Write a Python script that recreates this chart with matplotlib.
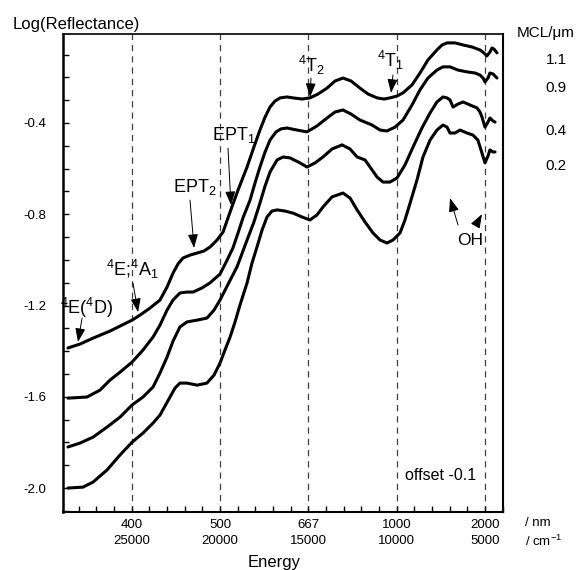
import numpy as np
import matplotlib.pyplot as plt
from matplotlib.ticker import MultipleLocator

plt.rcParams['font.family'] = ['Liberation Sans', 'DejaVu Sans']
plt.rcParams['mathtext.fontset'] = 'custom'
plt.rcParams['mathtext.rm'] = 'Liberation Sans'
plt.rcParams['mathtext.it'] = 'Liberation Sans:italic'

# energy axis: wavelength (nm) and wavenumber (cm-1)
nm_ticks = ['400', '500', '667', '1000', '2000']
wn_ticks = [25000, 20000, 15000, 10000, 5000]
y_ticks = [-0.4, -0.8, -1.2, -1.6, -2.0]
mcl = ['1.1', '0.9', '0.4', '0.2']

# log reflectance spectra, each successive curve offset by -0.1
wn_11 = [28610, 27930, 27190, 26230, 24980, 24530, 23960, 23400, 23000, 22660,
         22380, 22100, 21700, 21300, 20910, 20570, 20170, 19830, 19430, 18980,
         18470, 18080, 17740, 17450, 17170, 16890, 16600, 16210, 15870, 15360,
         14910, 14450, 13940, 13490, 13040, 12580, 12080, 11620, 11110, 10720,
         10380, 9980, 9640, 9130, 8680, 8230, 7720, 7430, 7150, 6700,
         6240, 5730, 5280, 5060, 4890, 4720, 4600, 4490, 4320]
logr_11 = [-1.386, -1.369, -1.343, -1.312, -1.264, -1.242, -1.211, -1.176, -1.119, -1.058,
           -1.018, -0.992, -0.979, -0.970, -0.961, -0.944, -0.913, -0.878, -0.790, -0.694,
           -0.593, -0.505, -0.431, -0.374, -0.330, -0.304, -0.290, -0.286, -0.290, -0.295,
           -0.290, -0.273, -0.247, -0.216, -0.203, -0.216, -0.247, -0.273, -0.290, -0.295,
           -0.290, -0.282, -0.268, -0.233, -0.181, -0.124, -0.080, -0.058, -0.049, -0.049,
           -0.058, -0.067, -0.080, -0.093, -0.106, -0.089, -0.071, -0.076, -0.093]

wn_09 = [28610, 27530, 26800, 26230, 25660, 24980, 24360, 23790, 23400, 23000,
         22660, 22270, 21870, 21530, 21020, 20570, 20000, 19600, 19270, 18980,
         18700, 18300, 18020, 17740, 17450, 17170, 16830, 16550, 16210, 15640,
         15080, 14510, 13940, 13490, 13040, 12580, 12080, 11390, 10940, 10550,
         10090, 9640, 9130, 8680, 8230, 7720, 7380, 6980, 6530, 6020,
         5560, 5280, 5110, 5000, 4830, 4720, 4550, 4320]
logr_09 = [-1.606, -1.601, -1.571, -1.527, -1.492, -1.448, -1.395, -1.338, -1.286, -1.220,
           -1.176, -1.145, -1.141, -1.141, -1.123, -1.101, -1.062, -1.001, -0.948, -0.882,
           -0.816, -0.738, -0.663, -0.593, -0.527, -0.475, -0.439, -0.426, -0.422, -0.431,
           -0.439, -0.413, -0.378, -0.352, -0.343, -0.361, -0.387, -0.409, -0.431, -0.435,
           -0.418, -0.387, -0.321, -0.255, -0.203, -0.168, -0.154, -0.154, -0.168, -0.176,
           -0.181, -0.190, -0.203, -0.220, -0.203, -0.181, -0.185, -0.203]

wn_04 = [28610, 27930, 27190, 26400, 25660, 24980, 24360, 23790, 23400, 23000,
         22660, 22270, 21870, 21300, 20740, 20340, 20000, 19600, 19040, 18470,
         18080, 17740, 17450, 17170, 16770, 16430, 16040, 15470, 15080, 14620,
         14170, 13660, 13090, 12640, 12240, 11790, 11390, 11110, 10770, 10380,
         9980, 9530, 9070, 8570, 8110, 7720, 7380, 7150, 6980, 6810,
         6530, 6240, 5850, 5450, 5280, 5170, 5000, 4830, 4720, 4550, 4430]
logr_04 = [-1.820, -1.803, -1.777, -1.733, -1.689, -1.636, -1.601, -1.557, -1.496, -1.426,
           -1.356, -1.294, -1.272, -1.264, -1.255, -1.220, -1.176, -1.115, -1.031, -0.913,
           -0.834, -0.751, -0.676, -0.615, -0.562, -0.549, -0.553, -0.575, -0.593, -0.575,
           -0.549, -0.514, -0.496, -0.514, -0.549, -0.562, -0.606, -0.637, -0.659, -0.659,
           -0.641, -0.584, -0.505, -0.422, -0.356, -0.308, -0.286, -0.290, -0.299, -0.330,
           -0.317, -0.308, -0.321, -0.334, -0.352, -0.374, -0.418, -0.396, -0.378, -0.391, -0.396]

wn_02 = [28610, 27760, 27190, 26400, 25660, 24980, 24360, 23790, 23400, 22830,
         22550, 22270, 21870, 21300, 20740, 20340, 20000, 19720, 19430, 19150,
         18870, 18470, 18190, 17910, 17620, 17340, 17060, 16770, 16320, 15870,
         15360, 14910, 14510, 14170, 13660, 13040, 12640, 12240, 11790, 11340,
         10940, 10550, 10210, 9810, 9530, 9240, 8850, 8510, 8110, 7720,
         7380, 7150, 6980, 6700, 6410, 6020, 5680, 5400, 5170, 5000,
         4830, 4720, 4550, 4430]
logr_02 = [-2.000, -1.996, -1.974, -1.921, -1.855, -1.799, -1.759, -1.715, -1.680, -1.601,
           -1.562, -1.540, -1.540, -1.549, -1.540, -1.505, -1.452, -1.395, -1.338, -1.272,
           -1.198, -1.101, -1.014, -0.944, -0.869, -0.812, -0.786, -0.781, -0.786, -0.795,
           -0.812, -0.825, -0.803, -0.768, -0.724, -0.707, -0.729, -0.781, -0.834, -0.882,
           -0.913, -0.926, -0.913, -0.882, -0.825, -0.751, -0.650, -0.549, -0.475, -0.431,
           -0.409, -0.418, -0.444, -0.444, -0.431, -0.444, -0.453, -0.475, -0.532, -0.575,
           -0.545, -0.518, -0.527, -0.527]

W, H = 580, 570
fig = plt.figure(figsize=(W / 100, H / 100), dpi=100)
ax = fig.add_axes([63 / W, 1 - 512 / H, 440 / W, 478 / H])

for w in wn_ticks:
    ax.axvline(w, color='0.25', lw=0.9, ls=(0, (5, 4)), zorder=1)

for wn, lr in [(wn_11, logr_11), (wn_09, logr_09), (wn_04, logr_04), (wn_02, logr_02)]:
    ax.plot(wn, lr, color='black', lw=2.2, solid_joinstyle='round',
            solid_capstyle='round', zorder=3)

ax.set_xlim(28890, 3980)
ax.set_ylim(-2.105, -0.01)

ax.set_xticks(wn_ticks, labels=[f'{a}\n{b}' for a, b in zip(nm_ticks, wn_ticks)])
ax.set_yticks(y_ticks, labels=[f'{v:.1f}' for v in y_ticks])
ax.xaxis.set_minor_locator(MultipleLocator(1000))
ax.yaxis.set_minor_locator(MultipleLocator(0.1))
ax.tick_params(which='both', direction='in', length=4, width=1, top=False, right=False)
ax.tick_params(axis='x', labelsize=9.5, pad=5)
ax.tick_params(axis='y', labelsize=9.5, pad=12)
for lbl in ax.get_xticklabels():
    lbl.set_linespacing(1.5)

ax.spines['left'].set_linewidth(1.8)
ax.spines['bottom'].set_linewidth(1.5)
ax.spines['top'].set_linewidth(1.2)
ax.spines['right'].set_linewidth(1.5)

# band assignments
arrow = dict(arrowstyle='-|>,head_length=0.6,head_width=0.22', color='black',
             lw=0.7, shrinkA=0, shrinkB=0, mutation_scale=14)
bands = [
    (r'$\mathregular{^4E(^4D)}$', (27530, -1.211), (27810, -1.255), (28040, -1.360)),
    (r'$\mathregular{^4E}$;$\mathregular{^4A_1}$', (24930, -1.044), (24930, -1.101), (24640, -1.229)),
    (r'$\mathregular{EPT_2}$', (21410, -0.681), (21700, -0.738), (21470, -0.948)),
    (r'$\mathregular{EPT_1}$', (19210, -0.453), (19550, -0.510), (19380, -0.760)),
    (r'$\mathregular{^4T_2}$', (14790, -0.150), (14850, -0.203), (14900, -0.286)),
    (r'$\mathregular{^4T_1}$', (10320, -0.128), (10210, -0.190), (10320, -0.268)),
]
for txt, pos, tail, tip in bands:
    ax.text(*pos, txt, fontsize=13, ha='center', va='center')
    ax.annotate('', xy=tip, xytext=tail, arrowprops=arrow)

ax.text(5850, -0.913, 'OH', fontsize=12.5, ha='center', va='center')
ax.annotate('', xy=(6980, -0.729), xytext=(6525, -0.847), arrowprops=arrow)
ax.annotate('', xy=(5170, -0.800), xytext=(5500, -0.845), arrowprops=arrow)

ax.text(7540, -1.943, 'offset -0.1', fontsize=11.5, ha='center', va='center')

# labels outside the axes
fig.text(13 / W, 1 - 25 / H, 'Log(Reflectance)', fontsize=12, ha='left', va='center')
fig.text(546 / W, 1 - 33 / H, 'MCL/\u03bcm', fontsize=11, ha='center', va='center')
for lbl, yp in zip(mcl, [60, 88, 131, 166]):
    fig.text(556 / W, 1 - yp / H, lbl, fontsize=11, ha='center', va='center')
fig.text(525 / W, 1 - 523 / H, '/ nm', fontsize=9.5, ha='left', va='center')
fig.text(525 / W, 1 - 541 / H, r'/ cm$^{-1}$', fontsize=9.5, ha='left', va='center')
fig.text(274 / W, 1 - 562 / H, 'Energy', fontsize=12, ha='center', va='center')

fig.savefig('out.png', dpi=100)
